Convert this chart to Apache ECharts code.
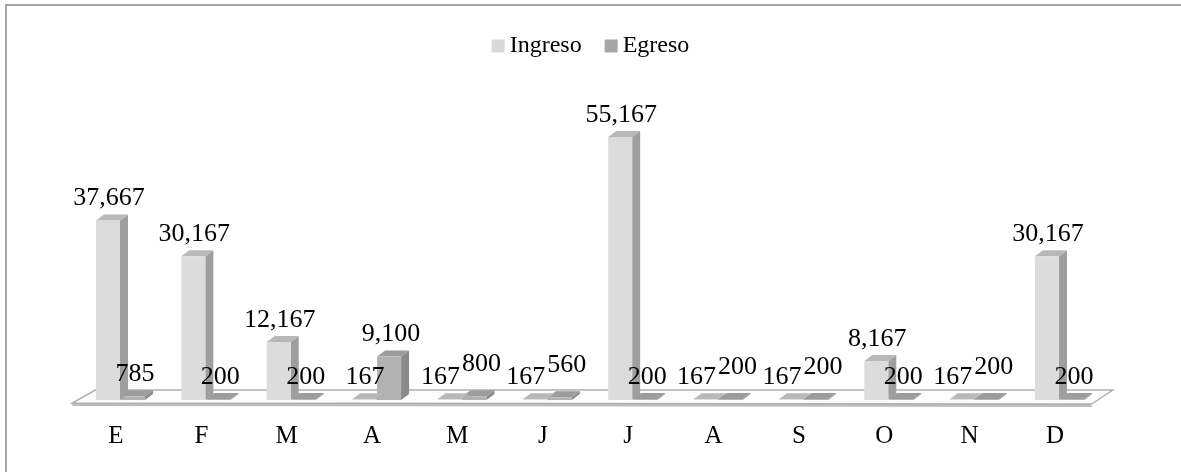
<!DOCTYPE html>
<html>
<head>
<meta charset="utf-8">
<script src="https://cdn.jsdelivr.net/npm/echarts@6/dist/echarts.min.js"></script>
<style>
html, body { margin: 0; padding: 0; background: #fff; }
#chart { position: absolute; left: 0; top: 0; width: 1181px; height: 472px; }
#frame { position: absolute; left: 5px; top: 4px; right: 0; bottom: 0;
  border-top: 2px solid #a6a6a6; border-left: 2px solid #a6a6a6; pointer-events: none; }
</style>
</head>
<body>
<div id="chart"></div>
<div id="frame"></div>
<script>
// datos mensuales
var months = ['E', 'F', 'M', 'A', 'M', 'J', 'J', 'A', 'S', 'O', 'N', 'D'];
var ingreso = [37667, 30167, 12167, 167, 167, 167, 55167, 167, 167, 8167, 167, 30167];
var egreso = [785, 200, 200, 9100, 800, 560, 200, 200, 200, 200, 200, 200];
var seriesNames = ['Ingreso', 'Egreso'];

var FONT = '"Liberation Serif", "Times New Roman", serif';
var DX = 8, DY = -6; // profundidad del efecto 3D

function fmt(v) { return v.toLocaleString('en-US'); }

// columna con cara frontal, lateral y superior
function prism(colors, from, to) {
  return function (params, api) {
    var i = api.value(0), v = api.value(1);
    var base = api.coord([i, 0]);
    var head = api.coord([i, v]);
    var x0 = base[0] + from, x1 = base[0] + to;
    var yb = base[1], yt = head[1];
    return {
      type: 'group',
      children: [
        { type: 'polygon', shape: { points: [[x1, yt], [x1 + DX, yt + DY], [x1 + DX, yb + DY], [x1, yb]] },
          style: { fill: colors.side } },
        { type: 'polygon', shape: { points: [[x0, yt], [x0 + DX, yt + DY], [x1 + DX, yt + DY], [x1, yt]] },
          style: { fill: colors.top } },
        { type: 'rect', shape: { x: x0, y: yt, width: x1 - x0, height: yb - yt },
          style: { fill: colors.front } }
      ]
    };
  };
}

// etiquetas de valor encima de cada columna
function valueLabel(isIngreso) {
  return function (params, api) {
    var i = api.value(0), v = api.value(1);
    var base = api.coord([i, 0]);
    var head = api.coord([i, v]);
    // si las dos columnas son bajas, separar las etiquetas
    var crowded = ingreso[i] < 1000 && egreso[i] < 1000;
    var lx, ly = head[1] + DY - 3;
    if (isIngreso) {
      lx = base[0] + (crowded ? -17 : -7);
    } else {
      lx = base[0] + (crowded ? 24 : 19);
      if (crowded) ly -= 10;
    }
    return { type: 'text', style: { text: fmt(v), x: lx, y: ly, align: 'center', verticalAlign: 'bottom',
      fontSize: 26, fontFamily: FONT, fill: '#000' } };
  };
}

// piso del grafico
function floor(params, api) {
  var band = api.size([1, 0])[0];
  var a = api.coord([0, 0]);
  var b = api.coord([months.length - 1, 0]);
  var L = a[0] - band / 2, R = b[0] + band / 2, yb = a[1];
  var fl = [L - 1, yb + 3], fr = [R - 6, yb + 4], br = [R + 15, yb - 10], bl = [L + 22, yb - 10];
  return {
    type: 'group',
    children: [
      { type: 'polygon', shape: { points: [fl, fr, [fr[0], fr[1] + 3], [fl[0], fl[1] + 3]] },
        style: { fill: '#bdbdbd' } },
      { type: 'polygon', shape: { points: [fl, fr, br, bl] },
        style: { fill: '#fcfcfc', stroke: '#b0b0b0', lineWidth: 1.5 } }
    ]
  };
}

var ingresoData = ingreso.map(function (v, i) { return [i, v]; });
var egresoData = egreso.map(function (v, i) { return [i, v]; });

var chart = echarts.init(document.getElementById('chart'));
chart.setOption({
  animation: false,
  legend: {
    data: seriesNames.map(function (n) { return { name: n, icon: 'rect' }; }),
    top: 29,
    left: 'center',
    itemWidth: 13,
    itemHeight: 13,
    itemGap: 23,
    textStyle: { fontSize: 24, fontFamily: FONT, color: '#000' }
  },
  grid: { left: 73.3, right: 83.3, top: 114, bottom: 72, outerBoundsMode: 'none' },
  xAxis: {
    type: 'category',
    data: months,
    axisLine: { show: false },
    axisTick: { show: false },
    axisLabel: { fontSize: 25, fontFamily: FONT, color: '#000', margin: 24 }
  },
  yAxis: { type: 'value', min: 0, max: 60000, show: false, splitLine: { show: false } },
  series: [
    {
      type: 'custom', name: 'piso', silent: true, z: 1,
      renderItem: floor,
      data: [[0, 0]]
    },
    {
      type: 'custom', name: 'Egreso', z: 2,
      itemStyle: { color: '#a6a6a6' },
      renderItem: prism({ front: '#b2b2b2', side: '#8a8a8a', top: '#9c9c9c' }, 5, 29),
      data: egresoData
    },
    {
      type: 'custom', name: 'Ingreso', z: 3,
      itemStyle: { color: '#d9d9d9' },
      renderItem: prism({ front: '#dcdcdc', side: '#9e9e9e', top: '#b8b8b8' }, -20, 4),
      data: ingresoData
    },
    {
      type: 'custom', name: 'etiquetas Egreso', silent: true, z: 5,
      renderItem: valueLabel(false),
      data: egresoData
    },
    {
      type: 'custom', name: 'etiquetas Ingreso', silent: true, z: 5,
      renderItem: valueLabel(true),
      data: ingresoData
    }
  ]
});
</script>
</body>
</html>
